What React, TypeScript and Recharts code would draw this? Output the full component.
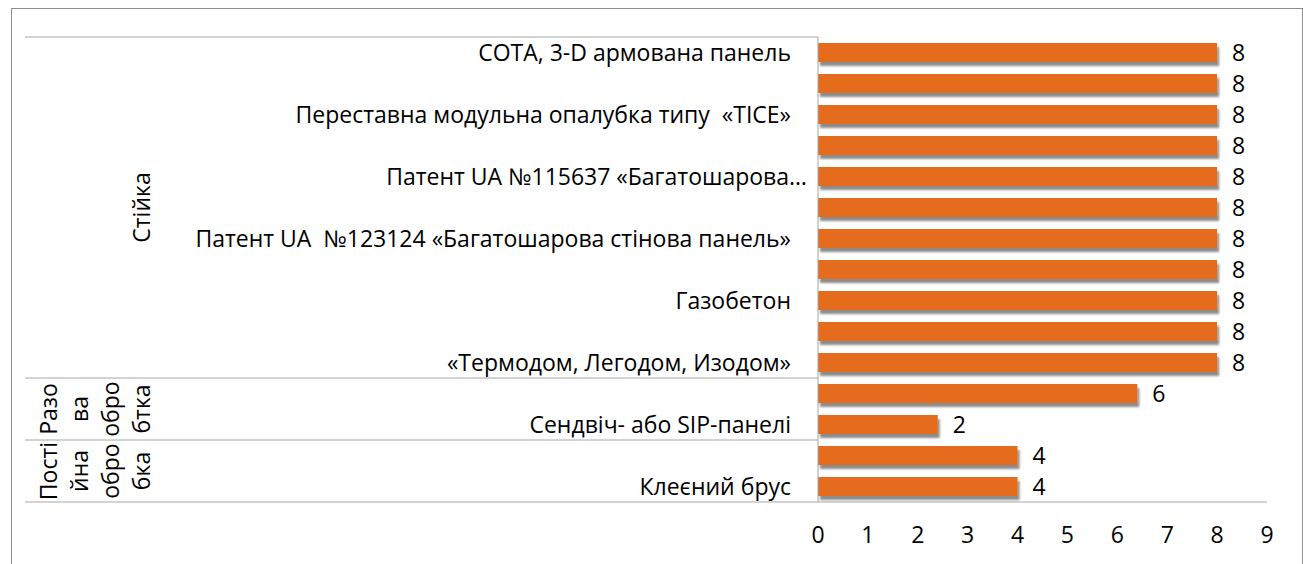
import { BarChart, Bar, XAxis, YAxis, LabelList } from 'recharts';

const categories = [
  'СОТА, 3-D армована панель',
  '',
  'Переставна модульна опалубка типу  «TICE»',
  '',
  'Патент UA №115637 «Багатошарова…',
  '',
  'Патент UA  №123124 «Багатошарова стінова панель»',
  '',
  'Газобетон',
  '',
  '«Термодом, Легодом, Изодом»',
  '',
  'Сендвіч- або SIP-панелі',
  '',
  'Клеєний брус',
];

const values = [8, 8, 8, 8, 8, 8, 8, 8, 8, 8, 8, 6.4, 2.4, 4, 4];

const groupNames = ['Стійка', 'Разова обробка', 'Постійна обробка'];
const groupSizes = [11, 2, 2];
// wrapped the way the original axis shows them
const groupLines = [['Стійка'], ['Разо', 'ва', 'обро', 'бтка'], ['Пості', 'йна', 'обро', 'бка']];

const xTicks = [0, 1, 2, 3, 4, 5, 6, 7, 8, 9];

const data = categories.map((label, i) => ({ id: i, label, value: values[i] }));

const FONT = '"Open Sans", sans-serif';
const SIZE = 23;
const LINE = '#a6a6a6';

const groupStarts = groupSizes.map((_, g) => groupSizes.slice(0, g).reduce((a, b) => a + b, 0));

const CategoryTick = (props: any) => {
  const { x, y, payload, height } = props;
  const i = payload.index;
  const half = payload.offset ?? height / data.length / 2;
  const label = categories[i];
  const g = groupStarts.indexOf(i);
  let group = null;
  if (g >= 0) {
    const top = y - half;
    const bottom = top + groupSizes[g] * half * 2;
    const mid = (top + bottom) / 2;
    const lines = groupLines[g];
    group = (
      <g>
        <line x1={x - 793} x2={x} y1={top} y2={top} stroke={LINE} />
        {g === groupSizes.length - 1 && (
          <line x1={x - 793} x2={x} y1={bottom} y2={bottom} stroke={LINE} />
        )}
        {lines.map((t, k) => {
          const bx = x - 668 - (lines.length - 1 - k) * 31;
          return (
            <text
              key={k}
              x={bx}
              y={mid}
              transform={`rotate(-90, ${bx}, ${mid})`}
              textAnchor="middle"
              fontFamily={FONT}
              fontSize={SIZE}
              fill="#000"
            >
              {t}
            </text>
          );
        })}
        <title>{groupNames[g]}</title>
      </g>
    );
  }
  const ellipsis = label.endsWith('…');
  return (
    <g>
      {group}
      {label && (
        <text
          x={x - (ellipsis ? 11 : 27)}
          y={y}
          dy="0.36em"
          textAnchor="end"
          fontFamily={FONT}
          fontSize={SIZE}
          fill="#000"
          style={{ whiteSpace: 'pre' }}
        >
          {label}
        </text>
      )}
    </g>
  );
};

export default function App() {
  return (
    <div
      style={{
        position: 'absolute',
        left: 11,
        top: 8,
        width: 1290,
        height: 555,
        border: '1px solid #8e8e8e',
        borderBottom: 'none',
        background: '#fff',
      }}
    >
      <BarChart
        width={1290}
        height={555}
        data={data}
        layout="vertical"
        margin={{ top: 28, right: 35, left: 0, bottom: 22 }}
      >
        <defs>
          <filter id="barShadow" x="-5%" y="-30%" width="110%" height="180%">
            <feDropShadow dx="2" dy="4" stdDeviation="1" floodColor="#000" floodOpacity="0.45" />
          </filter>
        </defs>
        <XAxis
          type="number"
          domain={[0, 9]}
          ticks={xTicks}
          interval={0}
          axisLine={{ stroke: LINE }}
          tickLine={false}
          tickSize={0}
          tickMargin={25}
          height={40}
          tick={{ fontFamily: FONT, fontSize: SIZE, fill: '#000' }}
        />
        <YAxis
          type="category"
          dataKey="id"
          width={806}
          interval={0}
          axisLine={{ stroke: LINE }}
          tickLine={false}
          tickSize={0}
          tickMargin={0}
          tick={<CategoryTick />}
        />
        <Bar
          dataKey="value"
          fill="#e46c1a"
          barSize={19}
          filter="url(#barShadow)"
          isAnimationActive={false}
        >
          <LabelList
            dataKey="value"
            position="right"
            offset={15}
            formatter={(v: any) => Math.round(Number(v))}
            style={{ fontFamily: FONT, fontSize: SIZE, fill: '#000' }}
          />
        </Bar>
      </BarChart>
    </div>
  );
}
